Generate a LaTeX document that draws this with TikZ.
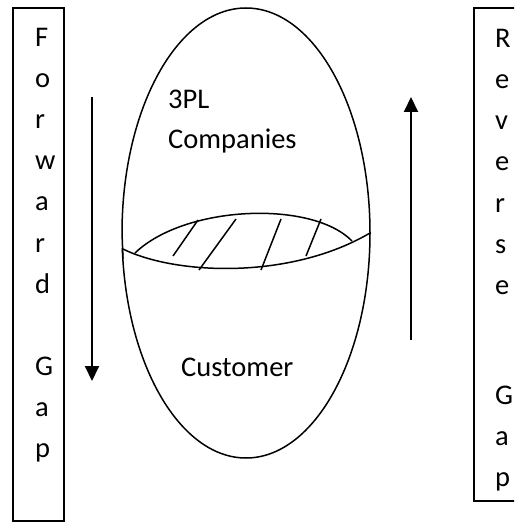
\documentclass[tikz,border=0pt]{standalone}
\usepackage{fontspec}
\setmainfont{Carlito}
\usetikzlibrary{arrows.meta}
\begin{document}
\begin{tikzpicture}[x=1pt,y=-1pt,
  frame/.style={draw, line width=1.6pt, inner sep=0pt},
  letter/.style={anchor=base west, inner sep=0pt, font=\fontsize{28.5}{34}\selectfont},
  caption/.style={anchor=base west, inner sep=0pt, font=\fontsize{28.5}{34}\selectfont},
  flow/.style={line width=2pt, -{Triangle[length=15pt,width=14pt]}},
  shell/.style={line width=1.5pt, line join=round},
  hatch/.style={line width=1.5pt}]
\useasboundingbox (0,0) rectangle (514,529);
\clip (0,0) rectangle (514,529);

% side panels
\node[frame, minimum width=51pt, minimum height=513pt] (fwdbox) at (38.5,264.5) {};
\node[frame, minimum width=60pt, minimum height=493pt] (revbox) at (504,254.5) {};

% vertical captions, one letter per line (baselines)
\foreach \ch/\k in {F/1,o/2,r/3,w/4,a/5,r/6,d/7,G/9,a/10,p/11}
  \node[letter] (fwd\k) at (35,{47+41*(\k-1)}) {\ch};
\foreach \ch/\k in {R/1,e/2,v/3,e/4,r/5,s/6,e/7}
  \node[letter] (rev\k) at (495,{48+41*(\k-1)}) {\ch};
\foreach \ch/\y [count=\k] in {G/404,a/445,p/486}
  \node[letter] (revgap\k) at (495,\y) {\ch};

% flow arrows
\coordinate (fwdstart) at (92,97);
\coordinate (fwdend) at (92,381);
\coordinate (revstart) at (411,340);
\coordinate (revend) at (411,97);
\draw[flow] (fwdstart) -- (fwdend);
\draw[flow] (revstart) -- (revend);

% upper shell (3PL companies)
\draw[shell] (123,259) -- (122,233) arc[start angle=180, end angle=360, x radius=124, y radius=225];
% lower bowl (customer)
\draw[shell] (122.3,248.7) .. controls (175,275) and (290,280) .. (370,233)
  arc[start angle=0, end angle=176, x radius=124, y radius=225] -- cycle;
% overlap lens with hatching
\draw[shell] (135,253) .. controls (185,205) and (312,200) .. (352,241);
\draw[hatch] (198,220) -- (173,256);
\draw[hatch] (236,219) -- (199,270);
\draw[hatch] (281,219) -- (261,270);
\draw[hatch] (321,219) -- (306,256);

% labels
\node[caption] (tpl) at (168,109) {3PL};
\node[caption] (comp) at (168,149) {Companies};
\node[caption] (cust) at (181,376) {Customer};
\end{tikzpicture}
\end{document}
